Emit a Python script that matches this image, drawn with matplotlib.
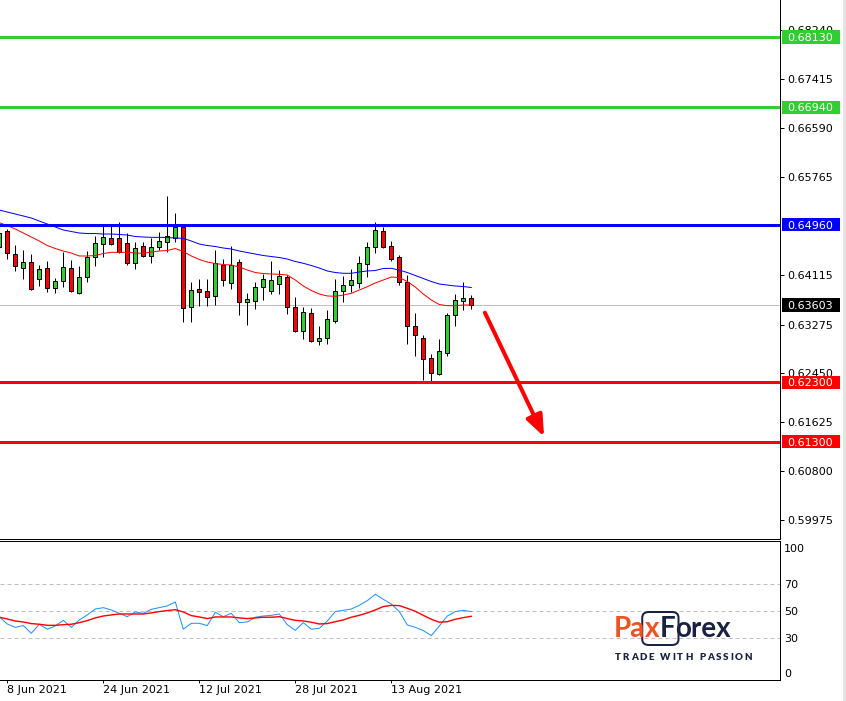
import matplotlib
matplotlib.use('Agg')
import matplotlib.pyplot as plt
import matplotlib.transforms as mtransforms
from matplotlib.patches import Rectangle, FancyBboxPatch
import numpy as np

W, H, DPI = 846, 701, 100
PX = 72.0 / DPI  # one pixel in points

# ---------------- data ----------------
first_index = -1  # first (partially visible) bar; bar 0 = 8 Jun 2021
opens = [0.64589, 0.64854, 0.64460, 0.64234, 0.64325, 0.64038, 0.64224, 0.63887, 0.64015, 0.64224,
         0.63812, 0.64072, 0.64410, 0.64639, 0.64730, 0.64730, 0.64646, 0.64319, 0.64595, 0.64437,
         0.64584, 0.64663, 0.64741, 0.64926, 0.63576, 0.63875, 0.63841, 0.63752, 0.64275, 0.63981,
         0.64330, 0.63660, 0.63677, 0.63914, 0.63846, 0.63964, 0.64077, 0.63566, 0.63171, 0.63470,
         0.62992, 0.63043, 0.63340, 0.63836, 0.63937, 0.63981, 0.64302, 0.64579, 0.64849, 0.64600,
         0.64415, 0.63988, 0.63245, 0.63043, 0.62710, 0.62445, 0.62800, 0.63431, 0.63677, 0.63718]
highs = [0.64854, 0.64882, 0.64617, 0.64533, 0.64465, 0.64280, 0.64347, 0.64065, 0.64499, 0.64359,
         0.64268, 0.64516, 0.64769, 0.64933, 0.64933, 0.65006, 0.64815, 0.64673, 0.64673, 0.64741,
         0.64842, 0.65444, 0.65157, 0.64955, 0.63998, 0.64044, 0.64044, 0.64533, 0.64381, 0.64600,
         0.64381, 0.63812, 0.63988, 0.64133, 0.64347, 0.64195, 0.64111, 0.63740, 0.63571, 0.63549,
         0.63250, 0.63515, 0.64044, 0.64099, 0.64212, 0.64432, 0.64673, 0.65006, 0.64921, 0.64685,
         0.64444, 0.64111, 0.63470, 0.63093, 0.62783, 0.63026, 0.63475, 0.63790, 0.63993, 0.63773]
lows = [0.64550, 0.64376, 0.64184, 0.64049, 0.63863, 0.63925, 0.63829, 0.63812, 0.63914, 0.63829,
        0.63795, 0.63993, 0.64268, 0.64420, 0.64617, 0.64477, 0.64280, 0.64212, 0.64420, 0.64319,
        0.64533, 0.64504, 0.64663, 0.63323, 0.63323, 0.63593, 0.63593, 0.63605, 0.63930, 0.63880,
        0.63436, 0.63267, 0.63537, 0.63689, 0.63790, 0.63790, 0.63458, 0.63154, 0.63031, 0.62985,
        0.62935, 0.62952, 0.63306, 0.63660, 0.63824, 0.63897, 0.64082, 0.64487, 0.64562, 0.64347,
        0.63942, 0.62952, 0.62749, 0.62339, 0.62310, 0.62423, 0.62749, 0.63255, 0.63520, 0.63542]
closes = [0.64815, 0.64477, 0.64258, 0.64325, 0.63880, 0.64207, 0.63887, 0.64005, 0.64241, 0.63846,
          0.64072, 0.64415, 0.64646, 0.64752, 0.64639, 0.64504, 0.64319, 0.64562, 0.64437, 0.64579,
          0.64680, 0.64764, 0.64921, 0.63559, 0.63853, 0.63829, 0.63745, 0.64309, 0.64032, 0.64275,
          0.63660, 0.63706, 0.63908, 0.64038, 0.64022, 0.64094, 0.63566, 0.63171, 0.63487, 0.62992,
          0.63043, 0.63363, 0.63836, 0.63942, 0.64022, 0.64309, 0.64579, 0.64871, 0.64584, 0.64381,
          0.63988, 0.63245, 0.63093, 0.62688, 0.62452, 0.62828, 0.63436, 0.63689, 0.63718, 0.63603]

ma_slow = [0.65208, 0.65174, 0.65141, 0.65107, 0.65073, 0.65022, 0.64972, 0.64921, 0.64871, 0.64845,
           0.64820, 0.64811, 0.64811, 0.64803, 0.64803, 0.64795, 0.64786, 0.64761, 0.64752, 0.64747,
           0.64747, 0.64744, 0.64735, 0.64730, 0.64685, 0.64634, 0.64609, 0.64592, 0.64567, 0.64550,
           0.64516, 0.64491, 0.64465, 0.64440, 0.64423, 0.64406, 0.64381, 0.64339, 0.64309, 0.64271,
           0.64229, 0.64179, 0.64153, 0.64140, 0.64140, 0.64162, 0.64179, 0.64187, 0.64221, 0.64224,
           0.64195, 0.64153, 0.64103, 0.64052, 0.64001, 0.63959, 0.63942, 0.63925, 0.63917, 0.63900]
ma_fast = [0.64994, 0.64946, 0.64887, 0.64820, 0.64752, 0.64685, 0.64609, 0.64558, 0.64516, 0.64482,
           0.64432, 0.64432, 0.64440, 0.64474, 0.64494, 0.64494, 0.64494, 0.64482, 0.64477, 0.64499,
           0.64516, 0.64525, 0.64558, 0.64508, 0.64432, 0.64373, 0.64330, 0.64305, 0.64288, 0.64280,
           0.64246, 0.64195, 0.64153, 0.64136, 0.64128, 0.64123, 0.64111, 0.64027, 0.63925, 0.63849,
           0.63790, 0.63757, 0.63752, 0.63773, 0.63802, 0.63858, 0.63914, 0.63976, 0.64027, 0.64077,
           0.64069, 0.64001, 0.63908, 0.63790, 0.63689, 0.63613, 0.63593, 0.63593, 0.63605, 0.63605]

osc_main = [46.0, 40.6, 38.1, 39.4, 33.7, 40.4, 36.7, 39.1, 43.3, 38.1,
            43.6, 47.3, 51.7, 52.7, 51.0, 48.5, 46.0, 49.5, 48.5, 51.5,
            52.7, 54.0, 56.9, 36.7, 41.1, 41.1, 39.4, 49.3, 46.0, 48.5,
            41.6, 42.1, 45.6, 46.5, 47.0, 48.0, 40.1, 35.9, 41.6, 36.7,
            37.4, 42.8, 49.8, 50.7, 51.7, 54.4, 57.9, 62.6, 58.9, 55.4,
            49.8, 39.9, 38.1, 35.7, 32.0, 39.1, 46.5, 49.8, 50.7, 49.8]
osc_signal = [45.6, 44.3, 42.8, 42.1, 40.9, 40.4, 39.6, 39.6, 40.1, 40.4,
              41.6, 43.1, 45.1, 46.5, 47.3, 48.0, 48.0, 48.0, 48.0, 48.8,
              49.8, 50.5, 51.2, 49.5, 46.8, 45.8, 44.6, 45.8, 45.8, 45.8,
              45.1, 44.6, 45.1, 45.6, 45.6, 46.0, 44.6, 43.3, 42.8, 41.9,
              40.6, 40.9, 42.3, 43.6, 45.6, 47.0, 48.8, 51.0, 53.5, 54.4,
              54.2, 52.2, 50.0, 47.0, 44.1, 41.9, 42.3, 44.1, 45.3, 46.3]

date_tick_bars = [0, 12, 24, 36, 48]
date_labels = ['8 Jun 2021', '24 Jun 2021', '12 Jul 2021', '28 Jul 2021', '13 Aug 2021']

price_ticks = [0.68240, 0.67415, 0.66590, 0.65765, 0.64115, 0.63275, 0.62450, 0.61625, 0.60800, 0.59975]
level_prices = [0.68130, 0.66940, 0.64960, 0.62300, 0.61300]
level_colors = ['#32CD32', '#32CD32', '#0000FF', '#FF0000', '#FF0000']
current_price = 0.63603

osc_levels = [70, 50, 30]
osc_ticks = [100, 70, 50, 30, 0]

arrow_from = (59.7, 0.63475)
arrow_to = (67.1, 0.61382)

# ---------------- figure ----------------
fig = plt.figure(figsize=(W / DPI, H / DPI), dpi=DPI)
fig.patch.set_facecolor('white')
plt.rcParams['font.family'] = ['DejaVu Sans']


def fx(px):
    return px / W


def fy(py):
    return 1 - py / H


ax = fig.add_axes([0, fy(539.3), fx(780), 539.3 / H])
ax2 = fig.add_axes([0, fy(680), fx(780), (680 - 541.3) / H])

x = np.arange(first_index, first_index + len(opens))
o, h, l, c = map(np.array, (opens, highs, lows, closes))
up = c >= o
body_colors = np.where(up, '#32CD32', '#FF0000')

ax.axhline(current_price, color='#C0C0C0', lw=PX, zorder=1)
ax.vlines(x, l, h, color='black', lw=PX, zorder=3)
ax.bar(x, np.maximum(np.abs(c - o), 0.00002), bottom=np.minimum(o, c), width=0.52,
       color=body_colors, edgecolor='black', linewidth=PX, zorder=4)

ax.plot(x, ma_slow, color='#0000FF', lw=PX, zorder=5)
ax.plot(x, ma_fast, color='#FF0000', lw=PX, zorder=5)

for p, col in zip(level_prices, level_colors):
    ax.axhline(p, color=col, lw=3 * PX, zorder=6)

ax.annotate('', xy=arrow_to, xytext=arrow_from,
            arrowprops=dict(arrowstyle='-|>,head_length=0.8,head_width=0.32', mutation_scale=16,
                            color='#FF0000', lw=2.9, shrinkA=0, shrinkB=0), zorder=7)

ax.set_xlim(-0.9125, 96.5875)
ax.set_ylim(0.59650, 0.68753)
ax.set_xticks([])
ax.yaxis.tick_right()
ax.set_yticks(price_ticks)
ax.set_yticklabels([f'{p:.5f}' for p in price_ticks])
ax.tick_params(axis='y', length=4 * PX, width=PX, pad=3 * PX, labelsize=8, colors='black')
for s in ('left', 'top'):
    ax.spines[s].set_visible(False)
for s in ('right', 'bottom'):
    ax.spines[s].set_linewidth(PX)
    ax.spines[s].set_color('black')

# coloured price boxes on the axis
trans = mtransforms.blended_transform_factory(ax.transAxes, ax.transData)
ylo, yhi = ax.get_ylim()
per_px = (yhi - ylo) / 539.3
box_h = 13.5 * per_px
box_prices = level_prices + [current_price]
box_colors = level_colors + ['#000000']
for p, col in zip(box_prices, box_colors):
    ax.add_patch(Rectangle((782 / 780, p - box_h / 2), 58 / 780, box_h, transform=trans,
                           clip_on=False, facecolor=col, edgecolor='none', zorder=8))
    ax.text(787 / 780, p, f'{p:.5f}', transform=trans, color='white', fontsize=8,
            ha='left', va='center_baseline', zorder=9, clip_on=False)

# ---------------- oscillator panel ----------------
for lv in osc_levels:
    ax2.axhline(lv, color='#C0C0C0', lw=PX, ls=(0, (4, 3)), zorder=1)
ax2.plot(x, osc_main, color='#1E90FF', lw=PX, zorder=3)
ax2.plot(x, osc_signal, color='#FF0000', lw=1.4 * PX, zorder=4)
ax2.set_xlim(-0.9125, 96.5875)
ax2.set_ylim(-0.9, 101.85)
ax2.yaxis.tick_right()
ax2.set_yticks(osc_ticks)
ax2.set_yticklabels([str(t) for t in osc_ticks])
ax2.tick_params(axis='y', length=0, pad=4 * PX, labelsize=8, colors='black')
ylabels = ax2.get_yticklabels()
ylabels[0].set_va('top')
ylabels[-1].set_va('bottom')
ax2.set_xticks(date_tick_bars)
ax2.set_xticklabels(date_labels, ha='left')
ax2.tick_params(axis='x', length=3 * PX, width=PX, pad=2 * PX, labelsize=8, colors='black')
ax2.spines['left'].set_visible(False)
for s in ('right', 'bottom', 'top'):
    ax2.spines[s].set_linewidth(PX)
    ax2.spines[s].set_color('black')

# window edge on the right
fig.patches.append(Rectangle((fx(843), 0), fx(3), 1, transform=fig.transFigure,
                             facecolor='#E4E4E4', edgecolor='none'))

# ---------------- logo ----------------
ORANGE = '#EE5322'
NAVY = '#1B2140'
r = fig.canvas.get_renderer()
base_y = 637
cur_x = 614
parts = [('Pa', ORANGE), ('x', ORANGE), ('F', NAVY), ('orex', NAVY)]
extents = []
for txt, col in parts:
    t = fig.text(fx(cur_x), fy(base_y), txt, color=col, fontsize=20, fontweight='bold',
                 family=['Lato', 'DejaVu Sans'], va='baseline', ha='left', zorder=5)
    bb = t.get_window_extent(r)
    extents.append(bb)
    cur_x = bb.x1
bx0 = extents[1].x0 - 3
bx1 = extents[2].x1 + 3
box = FancyBboxPatch((fx(bx0), fy(645)), fx(bx1 - bx0), (645 - 612) / H,
                     boxstyle='round,pad=0,rounding_size=0.008', transform=fig.transFigure,
                     facecolor='none', edgecolor=NAVY, linewidth=2 * PX, zorder=4)
fig.patches.append(box)

tag = 'TRADE WITH PASSION'
widths = []
for ch in tag:
    t = fig.text(0, 0, ch, fontsize=7, fontweight='heavy', family=['Lato', 'DejaVu Sans'])
    widths.append(t.get_window_extent(r).width if ch != ' ' else 3.0)
    t.remove()
total = sum(widths)
extra = (752 - 615 - total) / (len(tag) - 1)
cx = 615
for ch, wch in zip(tag, widths):
    if ch != ' ':
        fig.text(fx(cx), fy(660), ch, fontsize=7, fontweight='heavy', color=NAVY,
                 family=['Lato', 'DejaVu Sans'], va='baseline', ha='left')
    cx += wch + extra

fig.savefig('out.png', dpi=DPI, facecolor='white')
